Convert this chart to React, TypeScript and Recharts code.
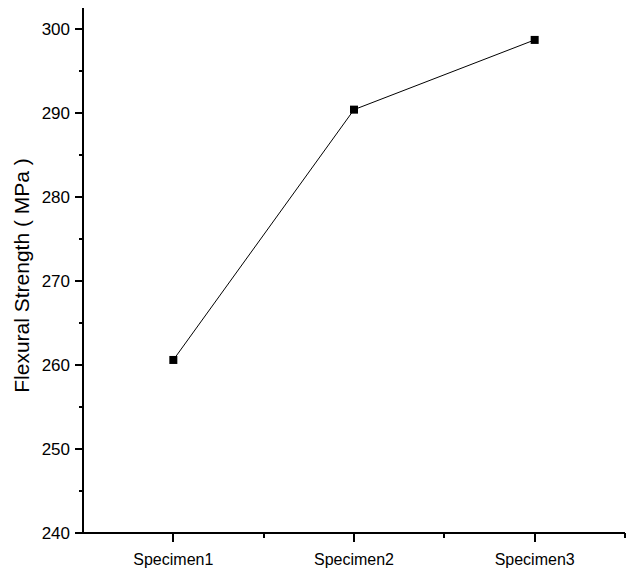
import React from "react";
import { LineChart, Line, XAxis, YAxis } from "recharts";

const categories = ["Specimen1", "Specimen2", "Specimen3"];
const strengthValues = [260.6, 290.4, 298.7];
const yTicks = [240, 245, 250, 255, 260, 265, 270, 275, 280, 285, 290, 295, 300];
const xTicks = [1, 1.5, 2, 2.5, 3, 3.5];
const yLabel = "Flexural Strength ( MPa )";

const data = categories.map((c, i) => ({ x: i + 1, name: c, value: strengthValues[i] }));

const FONT = "'Liberation Sans', Arial, Helvetica, sans-serif";

const XTick = (props: any) => {
  const x = Number(props.x);
  const y = Number(props.y);
  const v = Number(props.payload.value);
  const major = Number.isInteger(v);
  const len = major ? 9 : 5;
  return (
    <g>
      <rect
        x={Math.round(x) - 1}
        y={Math.round(y)}
        width={2}
        height={len}
        fill="#000"
        stroke="none"
        shapeRendering="crispEdges"
      />
      {major && (
        <text x={x} y={y + 32} textAnchor="middle" fontSize={16} fontFamily={FONT} fill="#000" stroke="none">
          {categories[v - 1]}
        </text>
      )}
    </g>
  );
};

const YTick = (props: any) => {
  const x = Number(props.x);
  const y = Number(props.y);
  const v = Number(props.payload.value);
  const major = v % 10 === 0;
  const len = major ? 8 : 4;
  return (
    <g>
      <rect
        x={Math.round(x) - len}
        y={Math.round(y) - 1}
        width={len + 1}
        height={2}
        fill="#000"
        stroke="none"
        shapeRendering="crispEdges"
      />
      {major && (
        <text x={x - 13} y={y + 6} textAnchor="end" fontSize={17} fontFamily={FONT} fill="#000" stroke="none">
          {v}
        </text>
      )}
    </g>
  );
};

const SquareDot = (props: any) => {
  const { cx, cy } = props;
  if (cx == null || cy == null) return null;
  return <rect x={cx - 4} y={cy - 4} width={8} height={8} fill="#000" />;
};

export default function App() {
  return (
    <div style={{ position: "absolute", left: 0, top: 0, background: "#fff" }}>
      <LineChart
        width={627}
        height={570}
        data={data}
        margin={{ top: 8, right: 2, bottom: 0, left: 0 }}
        style={{ fontFamily: FONT }}
      >
        <XAxis
          dataKey="x"
          type="number"
          domain={[0.5, 3.5]}
          ticks={xTicks}
          interval={0}
          height={37}
          tickLine={false}
          tickSize={0}
          tickMargin={0}
          axisLine={{ stroke: "#000", strokeWidth: 2 }}
          tick={<XTick />}
        />
        <YAxis
          type="number"
          domain={[240, 302.5]}
          ticks={yTicks}
          interval={0}
          width={83}
          tickLine={false}
          tickSize={0}
          tickMargin={0}
          allowDataOverflow
          axisLine={{ stroke: "#000", strokeWidth: 2 }}
          tick={<YTick />}
          label={{
            content: (p: any) => {
              const vb = p.viewBox || { x: 0, y: 8, width: 83, height: 525 };
              const cx = vb.x + 21;
              const cy = vb.y + vb.height / 2 + 5;
              return (
                <text
                  x={cx}
                  y={cy}
                  transform={`rotate(-90 ${cx} ${cy})`}
                  textAnchor="middle"
                  dominantBaseline="central"
                  fontSize={21}
                  fontFamily={FONT}
                  fill="#000"
                >
                  {yLabel}
                </text>
              );
            },
          }}
        />
        <Line
          type="linear"
          dataKey="value"
          stroke="#000"
          strokeWidth={1}
          dot={<SquareDot />}
          activeDot={false}
          isAnimationActive={false}
        />
      </LineChart>
    </div>
  );
}
